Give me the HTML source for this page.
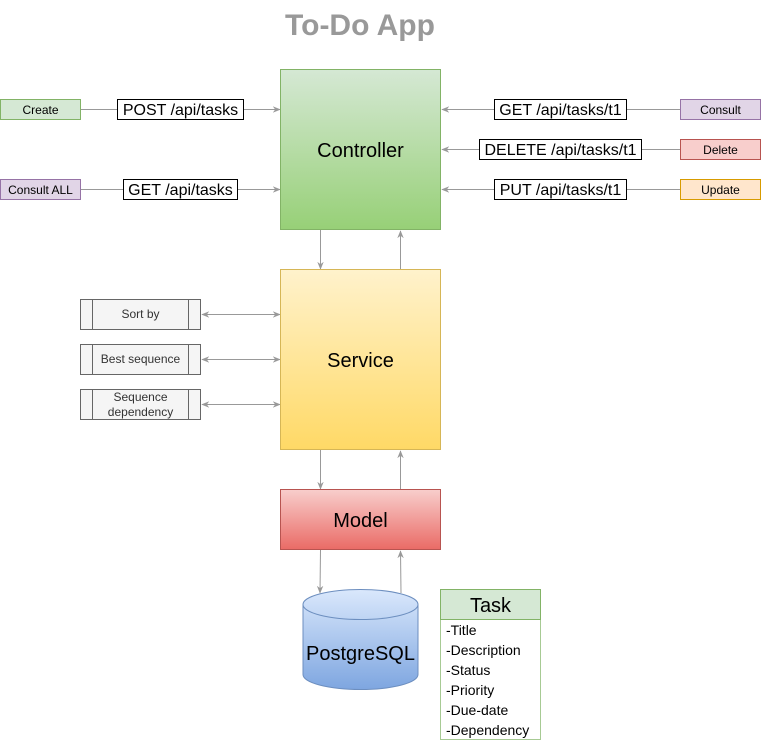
<!DOCTYPE html>
<html><head><meta charset="utf-8"><style>
html,body{margin:0;padding:0;background:#fff;width:762px;height:741px;overflow:hidden}
text{font-family:"Liberation Sans",Arial,sans-serif}
</style></head><body>
<svg width="762" height="741" viewBox="0 0 762 741" xmlns="http://www.w3.org/2000/svg">
<defs>
<linearGradient id="gc" x1="0" y1="0" x2="0" y2="1"><stop offset="0" stop-color="#d5e8d4"/><stop offset="1" stop-color="#97d077"/></linearGradient>
<linearGradient id="gs" x1="0" y1="0" x2="0" y2="1"><stop offset="0" stop-color="#fff2cc"/><stop offset="1" stop-color="#ffd966"/></linearGradient>
<linearGradient id="gm" x1="0" y1="0" x2="0" y2="1"><stop offset="0" stop-color="#f8cecc"/><stop offset="1" stop-color="#ea6b66"/></linearGradient>
<linearGradient id="gd" x1="0" y1="0" x2="0" y2="1"><stop offset="0" stop-color="#dae8fc"/><stop offset="1" stop-color="#7ea6e0"/></linearGradient>
<marker id="ar" viewBox="0 0 10 10" refX="9" refY="5" markerWidth="8" markerHeight="8" orient="auto-start-reverse" markerUnits="userSpaceOnUse"><path d="M0,1 L10,5 L0,9 L3,5 z" fill="#999"/></marker>
</defs>
<text x="360" y="35" text-anchor="middle" font-size="30" font-weight="bold" fill="#999">To-Do App</text>

<g stroke="#999" stroke-width="1" fill="none">
<line x1="80" y1="109.5" x2="280" y2="109.5" marker-end="url(#ar)"/>
<line x1="80" y1="189.5" x2="280" y2="189.5" marker-end="url(#ar)"/>
<line x1="680" y1="109.5" x2="442" y2="109.5" marker-end="url(#ar)"/>
<line x1="680" y1="149.5" x2="442" y2="149.5" marker-end="url(#ar)"/>
<line x1="680" y1="189.5" x2="442" y2="189.5" marker-end="url(#ar)"/>
<line x1="320.5" y1="230" x2="320.5" y2="269" marker-end="url(#ar)"/>
<line x1="400.5" y1="269" x2="400.5" y2="231" marker-end="url(#ar)"/>
<line x1="320.5" y1="450" x2="320.5" y2="489" marker-end="url(#ar)"/>
<line x1="400.5" y1="489" x2="400.5" y2="451" marker-end="url(#ar)"/>
<line x1="320.5" y1="550" x2="320" y2="593" marker-end="url(#ar)"/>
<line x1="401" y1="593" x2="400.5" y2="551" marker-end="url(#ar)"/>
<line x1="202" y1="314.5" x2="280" y2="314.5" marker-start="url(#ar)" marker-end="url(#ar)"/>
<line x1="202" y1="359.5" x2="280" y2="359.5" marker-start="url(#ar)" marker-end="url(#ar)"/>
<line x1="202" y1="404.5" x2="280" y2="404.5" marker-start="url(#ar)" marker-end="url(#ar)"/>
</g>

<g font-size="16" text-anchor="middle" fill="#000">
<rect x="117.5" y="99.5" width="126" height="20" fill="#fff" stroke="#000"/><text x="180.5" y="115">POST /api/tasks</text>
<rect x="123.5" y="179.5" width="114" height="20" fill="#fff" stroke="#000"/><text x="180.5" y="195">GET /api/tasks</text>
<rect x="494.5" y="99.5" width="132" height="20" fill="#fff" stroke="#000"/><text x="560.5" y="115">GET /api/tasks/t1</text>
<rect x="479.5" y="139.5" width="162" height="20" fill="#fff" stroke="#000"/><text x="560.5" y="155">DELETE /api/tasks/t1</text>
<rect x="494.5" y="179.5" width="132" height="20" fill="#fff" stroke="#000"/><text x="560.5" y="195">PUT /api/tasks/t1</text>
</g>

<g font-size="12" text-anchor="middle" fill="#000">
<rect x="0.5" y="99.5" width="80" height="20" fill="#d5e8d4" stroke="#82b366"/><text x="40.5" y="114">Create</text>
<rect x="0.5" y="179.5" width="80" height="20" fill="#e1d5e7" stroke="#9673a6"/><text x="40.5" y="194">Consult ALL</text>
<rect x="680.5" y="99.5" width="80" height="20" fill="#e1d5e7" stroke="#9673a6"/><text x="720.5" y="114">Consult</text>
<rect x="680.5" y="139.5" width="80" height="20" fill="#f8cecc" stroke="#b85450"/><text x="720.5" y="154">Delete</text>
<rect x="680.5" y="179.5" width="80" height="20" fill="#ffe6cc" stroke="#d79b00"/><text x="720.5" y="194">Update</text>
</g>

<rect x="280.5" y="69.5" width="160" height="160" fill="url(#gc)" stroke="#82b366"/>
<text x="360.5" y="157" text-anchor="middle" font-size="20">Controller</text>
<rect x="280.5" y="269.5" width="160" height="180" fill="url(#gs)" stroke="#d6b656"/>
<text x="360.5" y="367" text-anchor="middle" font-size="20">Service</text>
<rect x="280.5" y="489.5" width="160" height="60" fill="url(#gm)" stroke="#b85450"/>
<text x="360.5" y="527" text-anchor="middle" font-size="20">Model</text>

<g stroke="#666" fill="#f5f5f5" font-size="12" text-anchor="middle">
<rect x="80.5" y="299.5" width="120" height="30"/><line x1="92.5" y1="299.5" x2="92.5" y2="329.5"/><line x1="188.5" y1="299.5" x2="188.5" y2="329.5"/>
<rect x="80.5" y="344.5" width="120" height="30"/><line x1="92.5" y1="344.5" x2="92.5" y2="374.5"/><line x1="188.5" y1="344.5" x2="188.5" y2="374.5"/>
<rect x="80.5" y="389.5" width="120" height="30"/><line x1="92.5" y1="389.5" x2="92.5" y2="419.5"/><line x1="188.5" y1="389.5" x2="188.5" y2="419.5"/>
</g>
<g font-size="12" text-anchor="middle" fill="#333">
<text x="140.5" y="318">Sort by</text>
<text x="140.5" y="363">Best sequence</text>
<text x="140.5" y="401">Sequence</text>
<text x="140.5" y="416">dependency</text>
</g>

<path d="M303,604.5 a57.5,15 0 0 1 115,0 v70 a57.5,15 0 0 1 -115,0 z" fill="url(#gd)" stroke="#6c8ebf"/>
<path d="M303,604.5 a57.5,15 0 0 0 115,0" fill="none" stroke="#6c8ebf"/>
<text x="360.5" y="660" text-anchor="middle" font-size="20">PostgreSQL</text>

<rect x="440.5" y="589.5" width="100" height="150" fill="#fff" stroke="#82b366" stroke-opacity="0.7"/>
<rect x="440.5" y="589.5" width="100" height="30" fill="#d5e8d4" stroke="#82b366"/>
<text x="490.5" y="612" text-anchor="middle" font-size="20">Task</text>
<g font-size="14" fill="#000">
<text x="446" y="635">-Title</text>
<text x="446" y="655">-Description</text>
<text x="446" y="675">-Status</text>
<text x="446" y="695">-Priority</text>
<text x="446" y="715">-Due-date</text>
<text x="446" y="735">-Dependency</text>
</g>
</svg>
</body></html>
